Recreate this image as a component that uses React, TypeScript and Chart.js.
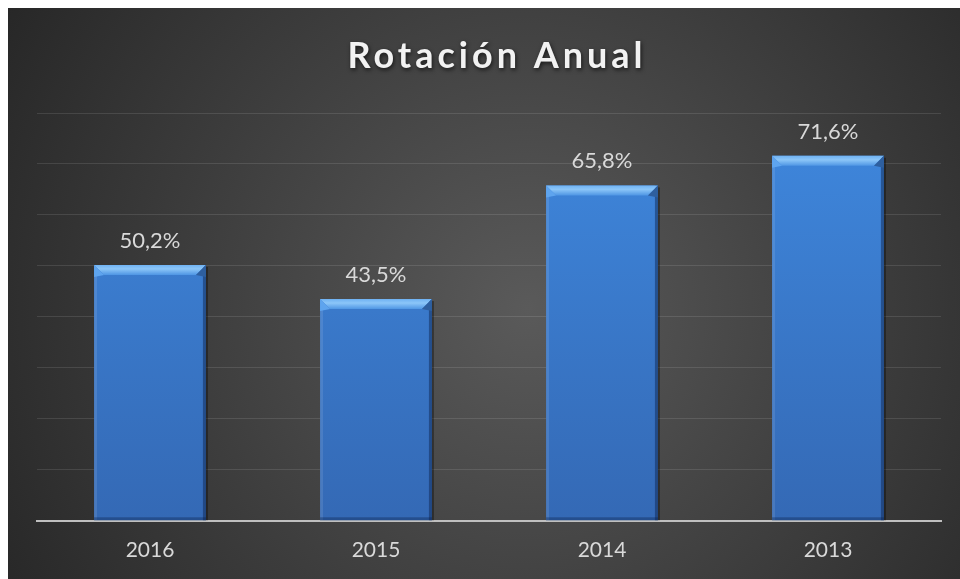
import React, { useEffect, useRef } from "react";
import { Chart, registerables } from "chart.js";

Chart.register(...registerables);

const titleText = "Rotación Anual";
const categories = ["2016", "2015", "2014", "2013"];
const values = [50.2, 43.5, 65.8, 71.6];
const yMax = 80;
const yStep = 10;

const fmt = (v: number) => v.toFixed(1).replace(".", ",") + "%";

const FONT = "Lato, 'Noto Sans', sans-serif";

const backgroundPlugin = {
  id: "bgGradient",
  beforeDraw(chart: any) {
    const { ctx, width, height } = chart;
    ctx.save();
    const g = ctx.createRadialGradient(520, 300, 0, 520, 300, 640);
    g.addColorStop(0, "#5a5a5a");
    g.addColorStop(0.55, "#3c3c3c");
    g.addColorStop(1, "#242424");
    ctx.fillStyle = g;
    ctx.fillRect(0, 0, width, height);
    ctx.restore();
  },
};

const titlePlugin = {
  id: "spacedTitle",
  afterDraw(chart: any) {
    const { ctx } = chart;
    ctx.save();
    ctx.font = `bold 36px ${FONT}`;
    (ctx as any).letterSpacing = "4px";
    ctx.textAlign = "center";
    ctx.textBaseline = "alphabetic";
    ctx.shadowColor = "rgba(0,0,0,0.65)";
    ctx.shadowBlur = 4;
    ctx.shadowOffsetX = 1;
    ctx.shadowOffsetY = 2;
    ctx.fillStyle = "#f2f2f2";
    ctx.fillText(titleText, 489, 60);
    ctx.restore();
  },
};

const bevelPlugin = {
  id: "bevelBars",
  afterDatasetsDraw(chart: any) {
    const { ctx } = chart;
    const meta = chart.getDatasetMeta(0);
    meta.data.forEach((el: any, i: number) => {
      const { x, y, base, width } = el.getProps(["x", "y", "base", "width"], true);
      const l = x - width / 2;
      const r = x + width / 2;
      const t = y;
      const b = base;
      const bv = 10;
      ctx.save();
      ctx.fillStyle = "rgba(0,0,0,0.35)";
      ctx.fillRect(r, t + 2, 2, b - t - 2);
      ctx.fillStyle = "rgba(255,255,255,0.10)";
      ctx.fillRect(l, t, 3, b - t);
      ctx.fillStyle = "rgba(10,30,70,0.45)";
      ctx.fillRect(r - 3, t, 3, b - t);
      ctx.fillStyle = "rgba(10,30,70,0.35)";
      ctx.fillRect(l, b - 3, width, 3);
      const g = ctx.createLinearGradient(0, t, 0, t + bv);
      g.addColorStop(0, "#6fb2f3");
      g.addColorStop(0.4, "#8cc6f8");
      g.addColorStop(1, "#4f96e4");
      ctx.fillStyle = g;
      ctx.beginPath();
      ctx.moveTo(l, t);
      ctx.lineTo(r, t);
      ctx.lineTo(r - bv, t + bv);
      ctx.lineTo(l + bv, t + bv);
      ctx.closePath();
      ctx.fill();
      ctx.fillStyle = "#5ea4ee";
      ctx.beginPath();
      ctx.moveTo(l, t);
      ctx.lineTo(l + bv, t + bv);
      ctx.lineTo(l, t + bv + 2);
      ctx.closePath();
      ctx.fill();
      ctx.fillStyle = "#2e5f9f";
      ctx.beginPath();
      ctx.moveTo(r, t);
      ctx.lineTo(r - bv, t + bv);
      ctx.lineTo(r, t + bv + 2);
      ctx.closePath();
      ctx.fill();
      ctx.font = `22px ${FONT}`;
      ctx.fillStyle = "#d9d9d9";
      ctx.textAlign = "center";
      ctx.textBaseline = "middle";
      ctx.fillText(fmt(values[i]), x, t - 24);
      ctx.restore();
    });
  },
};

export default function App() {
  const canvasRef = useRef<HTMLCanvasElement | null>(null);

  useEffect(() => {
    if (!canvasRef.current) return;
    const chart = new Chart(canvasRef.current, {
      type: "bar",
      data: {
        labels: categories,
        datasets: [
          {
            data: values,
            backgroundColor: (c: any) => {
              const ca = c.chart.chartArea;
              if (!ca) return "#3b7dd6";
              const g = c.chart.ctx.createLinearGradient(0, ca.top, 0, ca.bottom);
              g.addColorStop(0, "#3f88de");
              g.addColorStop(1, "#3469b5");
              return g;
            },
            borderWidth: 0,
            categoryPercentage: 1,
            barPercentage: 0.495,
          },
        ],
      },
      options: {
        animation: false,
        responsive: true,
        maintainAspectRatio: false,
        layout: { padding: { left: 29, right: 19, top: 105, bottom: 7 } },
        plugins: {
          legend: { display: false },
          title: { display: false },
          tooltip: { enabled: false },
        },
        scales: {
          x: {
            grid: { display: false },
            border: { display: true, color: "#bfbfbf", width: 2 },
            ticks: {
              color: "#d9d9d9",
              font: { family: FONT, size: 21 },
              padding: 9,
            },
          },
          y: {
            min: 0,
            max: yMax,
            ticks: { display: false, stepSize: yStep },
            grid: { color: "rgba(255,255,255,0.11)", lineWidth: 1, drawTicks: false },
            border: { display: false },
          },
        },
      },
      plugins: [backgroundPlugin, bevelPlugin, titlePlugin],
    });
    return () => chart.destroy();
  }, []);

  return (
    <div style={{ position: "fixed", left: 8, top: 8, width: 952, height: 571 }}>
      <canvas ref={canvasRef} />
    </div>
  );
}
